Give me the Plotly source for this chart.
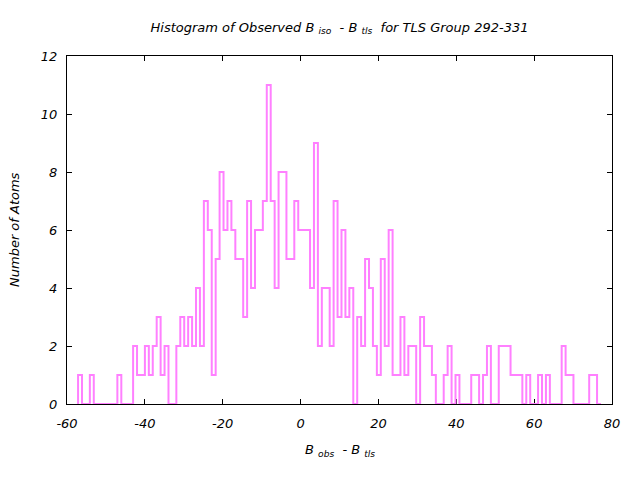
import numpy as np
import plotly.graph_objects as go

# Histogram data (bin edges start / width and counts per bin)
bin_start = -57.16
bin_width = 1.01
counts = [
    1, 0, 0, 1, 0, 0, 0, 0, 0, 0,
    1, 0, 0, 0, 2, 1, 1, 2, 1, 2,
    3, 1, 2, 0, 0, 2, 3, 2, 3, 2,
    4, 2, 7, 6, 1, 5, 8, 6, 7, 6,
    5, 5, 3, 7, 4, 6, 6, 7, 11, 7,
    4, 8, 8, 5, 5, 7, 6, 6, 6, 4,
    9, 2, 4, 4, 2, 7, 3, 6, 3, 4,
    0, 3, 2, 5, 4, 2, 1, 5, 2, 6,
    1, 1, 3, 1, 2, 2, 0, 3, 2, 2,
    1, 0, 0, 1, 2, 0, 1, 0, 0, 0,
    1, 1, 0, 1, 2, 0, 0, 2, 2, 2,
    1, 1, 1, 0, 1, 0, 0, 1, 0, 1,
    0, 0, 0, 2, 1, 1, 0, 0, 0, 0,
    1, 1, 0,
]
x_tick_vals = [-60, -40, -20, 0, 20, 40, 60, 80]
x_tick_text = ["-60", "-40", "-20", "0", "20", "40", "60", "80"]
y_tick_vals = [0, 2, 4, 6, 8, 10, 12]
y_tick_text = ["0", "2", "4", "6", "8", "10", "12"]

title_text = "Histogram of Observed B <sub>iso</sub>  - B <sub>tls</sub>  for TLS Group 292-331"
x_title = "B <sub>obs</sub>  - B <sub>tls</sub>"
y_title = "Number of Atoms"

edges = bin_start + bin_width * np.arange(len(counts) + 1)
xs = [edges[0]] + list(edges[:-1]) + [edges[-1]]
ys = [0] + list(counts) + [0]

FONT = dict(family="DejaVu Sans", size=13, color="black", style="italic")

fig = go.Figure(
    go.Scatter(
        x=xs, y=ys, mode="lines",
        line=dict(shape="hv", color="#ff80ff", width=2),
        hoverinfo="skip",
    )
)

fig.update_layout(
    width=640, height=480,
    margin=dict(l=67, r=28, t=56, b=76),
    paper_bgcolor="white", plot_bgcolor="white",
    showlegend=False,
    font=FONT,
    title=dict(text=title_text, x=0.5, xref="paper", xanchor="center",
               y=1 - 27 / 480, yanchor="middle", font=FONT),
)

fig.update_xaxes(
    range=[-60, 80], tickvals=x_tick_vals, ticktext=x_tick_text,
    ticks="inside", ticklen=5, tickcolor="black", tickwidth=1,
    showline=True, linecolor="black", linewidth=1, mirror="ticks",
    showgrid=False, zeroline=False, layer="below traces",
    tickfont=FONT, ticklabelstandoff=7,
)
fig.update_yaxes(
    range=[0, 12], tickvals=y_tick_vals, ticktext=y_tick_text,
    ticks="inside", ticklen=5, tickcolor="black", tickwidth=1,
    showline=True, linecolor="black", linewidth=1, mirror="ticks",
    showgrid=False, zeroline=False, layer="below traces",
    tickfont=FONT, ticklabelstandoff=6,
)

fig.add_annotation(text=x_title, xref="paper", yref="paper", x=0.5, y=-(450 - 404) / 348,
                   xanchor="center", yanchor="middle", showarrow=False, font=FONT)
fig.add_annotation(text=y_title, xref="paper", yref="paper", x=-(67 - 14) / 545, y=0.5,
                   xanchor="center", yanchor="middle", textangle=-90, showarrow=False,
                   font=FONT)

fig.write_html("out.html")
